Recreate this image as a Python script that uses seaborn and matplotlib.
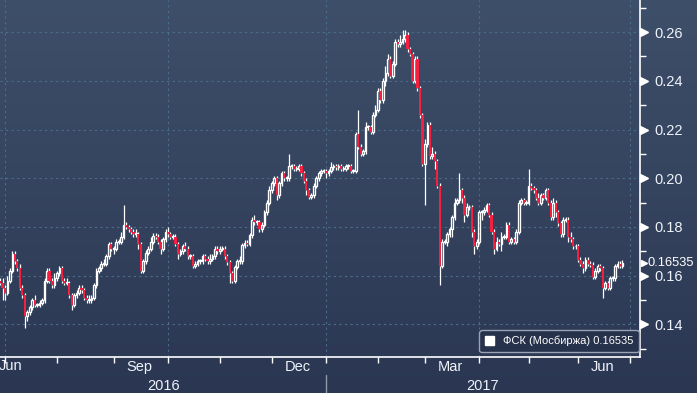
import matplotlib
matplotlib.use("Agg")
import matplotlib.pyplot as plt
import matplotlib.patches as mpatches
import matplotlib.transforms as mtransforms
from matplotlib.colors import LinearSegmentedColormap
from matplotlib.ticker import MultipleLocator, FixedLocator, NullFormatter
import numpy as np
import pandas as pd
import seaborn as sns

# ФСК (Мосбиржа), daily candles, end of Jun 2016 - end of Jun 2017
closes = [
    0.157, 0.155, 0.153, 0.158, 0.162, 0.169, 0.166, 0.163, 0.155, 0.152,
    0.1435, 0.145, 0.147, 0.150, 0.148, 0.148, 0.149, 0.150, 0.158, 0.162,
    0.158, 0.156, 0.159, 0.161, 0.163, 0.158, 0.157, 0.157, 0.152, 0.148,
    0.152, 0.153, 0.155, 0.154, 0.151, 0.150, 0.150, 0.151, 0.156, 0.162,
    0.163, 0.165, 0.165, 0.168, 0.173, 0.171, 0.171, 0.174, 0.174, 0.176,
    0.181, 0.180, 0.179, 0.178, 0.177, 0.177, 0.173, 0.162, 0.166, 0.1695,
    0.171, 0.174, 0.1765, 0.176, 0.174, 0.171, 0.175, 0.178, 0.177, 0.176,
    0.176, 0.173, 0.169, 0.170, 0.172, 0.171, 0.168, 0.168, 0.164, 0.165,
    0.166, 0.166, 0.168, 0.167, 0.166, 0.167, 0.168, 0.171, 0.170, 0.171,
    0.171, 0.168, 0.1655, 0.161, 0.158, 0.1636, 0.166, 0.166, 0.1725, 0.1735,
    0.173, 0.1766, 0.183, 0.182, 0.182, 0.179, 0.181, 0.186, 0.190, 0.195,
    0.198, 0.200, 0.193, 0.198, 0.202, 0.200, 0.200, 0.205, 0.205, 0.204,
    0.204, 0.205, 0.202, 0.199, 0.195, 0.1925, 0.193, 0.197, 0.200, 0.202,
    0.203, 0.203, 0.202, 0.203, 0.2045, 0.205, 0.2045, 0.205, 0.204, 0.204,
    0.205, 0.205, 0.203, 0.203, 0.218, 0.213, 0.210, 0.211, 0.221, 0.221,
    0.219, 0.226, 0.228, 0.236, 0.232, 0.240, 0.243, 0.249, 0.242, 0.247,
    0.256, 0.255, 0.256, 0.257, 0.259, 0.253, 0.251, 0.240, 0.249, 0.237,
    0.2258, 0.206, 0.214, 0.222, 0.209, 0.210, 0.207, 0.197, 0.164, 0.174,
    0.174, 0.177, 0.179, 0.184, 0.190, 0.191, 0.195, 0.192, 0.185, 0.188,
    0.188, 0.178, 0.172, 0.174, 0.186, 0.186, 0.187, 0.189, 0.185, 0.178,
    0.171, 0.174, 0.173, 0.176, 0.176, 0.181, 0.174, 0.175, 0.174, 0.178,
    0.190, 0.191, 0.190, 0.190, 0.197, 0.196, 0.195, 0.192, 0.190, 0.193,
    0.192, 0.195, 0.190, 0.184, 0.190, 0.186, 0.1815, 0.177, 0.183, 0.183,
    0.176, 0.175, 0.172, 0.172, 0.1665, 0.165, 0.163, 0.1665, 0.165, 0.1645,
    0.1595, 0.162, 0.164, 0.163, 0.155, 0.157, 0.155, 0.159, 0.159, 0.164,
    0.165, 0.164, 0.16535,
]
first_open = 0.158

# wick lengths above / below the body, in thousandths
up_wick = [
    1, 2, 1, 2, 1, 1, 1, 1, 2, 1,
    1, 1, 1, 1, 2, 1, 1, 1, 1, 1,
    1, 1, 2, 1, 1, 1, 1, 2, 1, 1,
    1, 1, 1, 1, 1, 1, 2, 1, 1, 1,
    1, 1, 2, 1, 1, 1, 1, 1, 1, 2,
    8, 1, 1, 1, 1, 2, 1, 1, 1, 1,
    1, 2, 1, 1, 1, 1, 1, 1, 2, 1,
    1, 1, 1, 1, 1, 2, 1, 1, 1, 1,
    1, 1, 1, 1, 1, 2, 1, 1, 1, 1,
    1, 1, 1, 1, 1, 1, 1, 2, 1, 1,
    1, 1, 1, 2, 1, 1, 1, 1, 1, 2,
    1, 1, 1, 1, 1, 1, 1, 5, 1, 1,
    1, 1, 1, 1, 1, 1, 1, 1, 1, 1,
    1, 1, 1, 1, 2, 1, 1, 1, 1, 1,
    1, 1, 1, 1, 1, 10, 1, 1, 2, 1,
    1, 1, 2, 1, 1, 1, 3, 2, 1, 1,
    1, 1, 3, 4, 2, 1, 1, 1, 1, 1,
    1, 1, 2, 1, 1, 3, 1, 1, 1, 1,
    1, 1, 1, 1, 2, 1, 7, 1, 1, 2,
    1, 1, 1, 1, 1, 1, 1, 1, 1, 1,
    1, 2, 1, 2, 1, 1, 1, 1, 1, 1,
    1, 1, 1, 1, 7, 1, 1, 1, 2, 1,
    1, 1, 1, 1, 2, 1, 1, 1, 1, 1,
    1, 2, 1, 1, 1, 1, 1, 1, 1, 1,
    1, 1, 1, 1, 1, 1, 1, 1, 1, 1,
    1, 1, 1,
]
dn_wick = [
    1, 5, 3, 1, 1, 1, 1, 1, 1, 1,
    5, 2, 1, 1, 1, 1, 1, 1, 1, 1,
    1, 1, 1, 1, 1, 1, 1, 1, 1, 2,
    1, 1, 1, 1, 1, 1, 1, 1, 1, 1,
    1, 1, 1, 1, 1, 1, 2, 1, 1, 1,
    1, 1, 1, 1, 1, 1, 2, 1, 1, 1,
    1, 1, 1, 1, 1, 2, 1, 1, 1, 1,
    1, 1, 2, 1, 1, 1, 1, 1, 1, 1,
    1, 1, 1, 1, 1, 1, 1, 1, 1, 1,
    1, 1, 1, 4, 1, 1, 1, 1, 1, 1,
    1, 1, 1, 1, 1, 1, 1, 1, 1, 1,
    1, 1, 2, 1, 1, 1, 1, 1, 1, 1,
    1, 1, 1, 1, 2, 1, 1, 1, 1, 1,
    1, 1, 2, 1, 1, 1, 1, 1, 1, 1,
    1, 1, 1, 1, 1, 1, 1, 1, 1, 1,
    1, 1, 1, 1, 1, 1, 2, 1, 1, 1,
    1, 1, 1, 1, 1, 1, 1, 1, 1, 1,
    1, 1, 17, 1, 1, 1, 3, 1, 8, 1,
    1, 2, 1, 3, 1, 1, 1, 2, 3, 1,
    1, 2, 3, 1, 1, 3, 1, 1, 1, 1,
    2, 1, 1, 3, 1, 1, 1, 1, 1, 1,
    1, 1, 1, 1, 1, 1, 1, 1, 1, 1,
    1, 1, 1, 1, 1, 2, 1, 1, 1, 1,
    2, 1, 1, 1, 1, 1, 2, 1, 1, 1,
    1, 1, 1, 1, 4, 1, 1, 1, 1, 1,
    1, 1, 1,
]

holidays = ["2016-11-04", "2017-01-02", "2017-02-23", "2017-03-08",
            "2017-05-01", "2017-05-08", "2017-05-09", "2017-06-12"]
yticks = [0.14, 0.16, 0.18, 0.20, 0.22, 0.24, 0.26]
last_price = 0.16535
series_name = "ФСК (Мосбиржа)"

BG_TOP = "#3e4f6a"
BG_BOTTOM = "#2b3752"
GRID = "#4a6d8a"
RED = "#f5203f"
TXT = "#eef3fa"
FS = 10.5

sns.set_theme(style="dark", rc={"axes.facecolor": "none", "figure.facecolor": BG_BOTTOM})
plt.rcParams["font.family"] = ["Liberation Sans", "DejaVu Sans"]

# trading calendar
cal = pd.bdate_range("2016-06-29", "2017-07-31", freq="C", holidays=holidays)
df = pd.DataFrame({"date": cal[:len(closes)], "close": closes})
df["open"] = df["close"].shift(1).fillna(first_open)
df["body_lo"] = df[["open", "close"]].min(axis=1)
df["body_hi"] = df[["open", "close"]].max(axis=1)
df["high"] = df["body_hi"] + np.array(up_wick) / 1000
df["low"] = df["body_lo"] - np.array(dn_wick) / 1000
df["height"] = (df["body_hi"] - df["body_lo"]).clip(lower=0.0004)
df["rise"] = df["close"] >= df["open"]
idx = np.arange(len(df))

fig = plt.figure(figsize=(6.97, 3.93), dpi=100)

# background gradient
bg = fig.add_axes([0, 0, 1, 1], zorder=-5)
cmap = LinearSegmentedColormap.from_list("bg", [BG_BOTTOM, BG_TOP])
bg.imshow(np.linspace(0, 1, 256).reshape(-1, 1), aspect="auto", cmap=cmap,
          origin="lower", extent=[0, 1, 0, 1])
bg.set_axis_off()

ax = fig.add_axes([0, 36 / 393, 640 / 697, 357 / 393])
ax.set_facecolor("none")

# grid
month_starts = [i for i in range(1, len(cal)) if cal[i].month != cal[i - 1].month]
quarter_starts = [i for i in month_starts if cal[i].month in (1, 4, 7, 10)]
for q in quarter_starts:
    ax.axvline(q, color=GRID, lw=0.8, ls=(0, (2, 3)), zorder=0)
for t in yticks:
    ax.axhline(t, color=GRID, lw=0.8, ls=(0, (2, 3)), zorder=0)

# candles
ax.vlines(idx, df["body_hi"], df["high"], color="white", lw=0.9, zorder=2)
ax.vlines(idx, df["low"], df["body_lo"], color="white", lw=0.9, zorder=2)
r = df["rise"].values
ax.bar(idx[r], df["height"][r], bottom=df["body_lo"][r], width=0.68,
       facecolor="none", edgecolor="white", linewidth=0.95, zorder=3)
ax.bar(idx[~r], df["height"][~r], bottom=df["body_lo"][~r], width=0.9,
       color=RED, linewidth=0, zorder=3)

ax.set_xlim(-0.03, 259.1)
ax.set_ylim(0.12664, 0.27316)

for s in ["left", "top"]:
    ax.spines[s].set_visible(False)
for s in ["right", "bottom"]:
    ax.spines[s].set_color("white")
    ax.spines[s].set_linewidth(1.2)

# x axis: month ticks, labels centred in quarter-end months
ax.xaxis.set_major_locator(FixedLocator(month_starts))
ax.xaxis.set_major_formatter(NullFormatter())
lab_pos, lab_txt = [], []
for a, b in zip(month_starts[:-1], month_starts[1:]):
    if cal[a].month in (3, 6, 9, 12):
        lab_pos.append((a + b) / 2 - 0.5)
        lab_txt.append(cal[a].strftime("%b"))
ax.xaxis.set_minor_locator(FixedLocator(lab_pos))
ax.set_xticklabels(lab_txt, minor=True)
ax.tick_params(axis="x", which="major", direction="out", length=4, width=1,
               color="white", bottom=True)
ax.tick_params(axis="x", which="minor", length=0, pad=2.5, labelsize=FS,
               labelcolor=TXT, bottom=True)
xt = mtransforms.blended_transform_factory(ax.transData, ax.transAxes)
ax.text(-0.6, -0.007, "Jun", transform=xt, ha="left", va="top",
        fontsize=FS, color=TXT, clip_on=False)

jan = [i for i in month_starts if cal[i].month == 1][0]
ax.text(jan / 2, -0.062, str(cal[0].year), transform=xt, ha="center",
        va="top", fontsize=FS, color=TXT)
ax.text((jan + ax.get_xlim()[1]) / 2, -0.062, str(cal[jan].year), transform=xt,
        ha="center", va="top", fontsize=FS, color=TXT)
ax.plot([jan, jan], [-0.05, -0.11], transform=xt, color="#8c97a8", lw=1,
        clip_on=False)

# y axis on the right with triangle markers
ax.yaxis.tick_right()
ax.set_yticks(yticks)
ax.set_yticklabels([f"{t:.2f}" for t in yticks])
ax.yaxis.set_minor_locator(MultipleLocator(0.01))
ax.tick_params(axis="y", which="major", length=0, pad=10, labelsize=FS,
               labelcolor=TXT, right=True, left=False)
ax.tick_params(axis="y", which="minor", direction="out", length=4, width=1,
               color="white", right=True, left=False)
yt = mtransforms.blended_transform_factory(ax.transAxes, ax.transData)
ax.plot([1.0065] * len(yticks), yticks, ls="none", marker=">", ms=5.5,
        color="white", transform=yt, clip_on=False)

ax.plot([1.006], [last_price], ls="none", marker=">", ms=5, color="white",
        transform=yt, clip_on=False)
ax.text(1.0115, last_price, f"{last_price}", transform=yt, ha="left",
        va="center", fontsize=9.3, color="white", clip_on=False)

# legend
handle = mpatches.Patch(facecolor="white", edgecolor="white")
leg = ax.legend([handle], [f"{series_name} {last_price}"], loc="lower right",
                bbox_to_anchor=(0.998, 0.014), fontsize=8, labelcolor="white",
                facecolor="#26314b", edgecolor="#9aa3b5", framealpha=1,
                fancybox=True, handlelength=0.8, handleheight=0.8,
                handletextpad=0.8, borderpad=0.5, borderaxespad=0)
leg.get_frame().set_linewidth(1.0)

fig.savefig("out.png", dpi=100)
